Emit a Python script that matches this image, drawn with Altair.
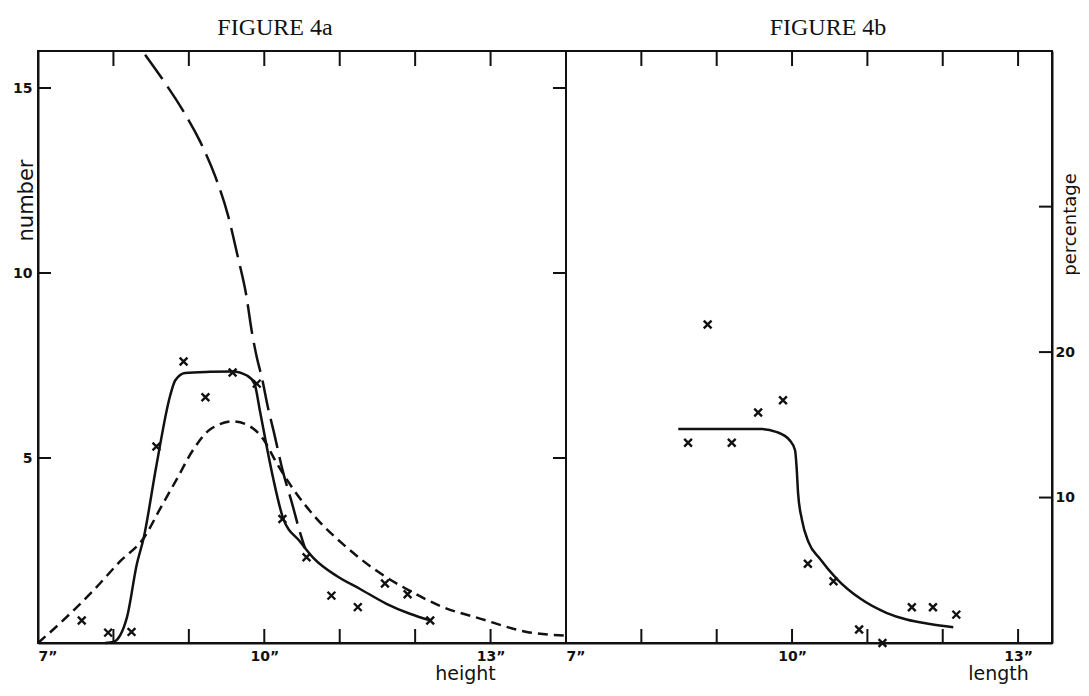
import altair as alt
import pandas as pd

# ---------------- Figure 4a data ----------------
a_cross_x = [7.58, 7.93, 8.24, 8.57, 8.93, 9.22, 9.58, 9.90, 10.24, 10.56, 10.89, 11.24, 11.60, 11.90, 12.20]
a_cross_y = [0.61, 0.28, 0.30, 5.31, 7.61, 6.64, 7.31, 7.01, 3.35, 2.32, 1.28, 0.97, 1.61, 1.32, 0.61]

a_solid_x = [7.89, 8.00, 8.18, 8.31, 8.40, 8.57, 8.75, 8.82, 8.95, 9.28, 9.58, 9.77, 9.87, 9.94,
             10.03, 10.12, 10.25, 10.47, 10.65, 10.96, 11.27, 11.62, 11.93, 12.20]
a_solid_y = [0.0, 0.03, 0.70, 2.13, 2.83, 4.80, 6.67, 7.10, 7.30, 7.33, 7.34, 7.23, 7.01, 6.30,
             5.33, 4.43, 3.37, 2.75, 2.30, 1.81, 1.46, 1.06, 0.79, 0.61]

a_short_x = [7.0, 7.29, 7.73, 8.09, 8.40, 8.62, 8.84, 9.06, 9.28, 9.59, 9.77, 9.99, 10.16, 10.38,
             10.69, 11.05, 11.49, 11.93, 12.37, 12.86, 13.48, 14.0]
a_short_y = [0.0, 0.53, 1.41, 2.21, 2.83, 3.63, 4.43, 5.23, 5.77, 5.99, 5.90, 5.50, 4.88, 4.17,
             3.37, 2.66, 1.95, 1.41, 0.97, 0.66, 0.30, 0.20]

a_long_x = [8.42, 8.68, 8.91, 9.15, 9.35, 9.52, 9.65, 9.76, 9.84, 9.90, 9.97, 10.05, 10.12, 10.25,
            10.37, 10.47, 10.54]
a_long_y = [15.9, 15.15, 14.43, 13.55, 12.61, 11.55, 10.43, 9.41, 8.35, 7.73, 7.15, 6.35, 5.76, 4.61,
            3.76, 3.01, 2.56]

a_xtick_values = [8, 9, 10, 11, 12, 13]
a_ytick_values = [5, 10, 15]
a_xlabel_values = [7, 10, 13]
a_ylabel_values = [5, 10, 15]

# ---------------- Figure 4b data ----------------
b_cross_x = [8.62, 8.88, 9.20, 9.55, 9.88, 10.21, 10.55, 10.89, 11.20, 11.59, 11.87, 12.18]
b_cross_y = [13.77, 21.9, 13.77, 15.85, 16.69, 5.45, 4.25, 0.93, 0.0, 2.46, 2.46, 1.95]

b_solid_x = [8.49, 9.00, 9.57, 9.80, 9.97, 10.04, 10.06, 10.08, 10.13, 10.22, 10.37, 10.59,
             10.90, 11.26, 11.52, 11.83, 12.14]
b_solid_y = [14.72, 14.72, 14.72, 14.5, 13.93, 13.25, 12.12, 10.31, 8.50, 6.92, 5.79, 4.43,
             3.07, 2.06, 1.61, 1.31, 1.09]

b_xtick_values = [8, 9, 10, 11, 12, 13]
b_ytick_values = [10, 20, 30]
b_xlabel_values = [7, 10, 13]
b_ylabel_values = [10, 20]

# ---------------- styling ----------------
INK = "#111111"
W_A, W_B, H = 528, 486, 592
LBL_FONT = "DejaVu Sans"
TTL_FONT = "DejaVu Sans"
X_SHAPE = "M-1,-1L1,1M1,-1L-1,1"

xa = alt.Scale(domain=[7, 14], nice=False, zero=False)
ya = alt.Scale(domain=[0, 16], nice=False, zero=False)
xb = alt.Scale(domain=[7, 13.45], nice=False, zero=False)
yb = alt.Scale(domain=[0, 40.7], nice=False, zero=False)

common_axis = dict(ticks=False, grid=False, domainColor=INK, domainWidth=2,
                   labelFont=LBL_FONT, labelFontSize=14, labelFontWeight="bold",
                   labelColor=INK, labelFlush=False, titleFont=TTL_FONT,
                   titleFontWeight="normal", titleColor=INK, titleBaseline="alphabetic",
                   titleAlign="center")


def x_axis(values, title, title_x):
    return alt.Axis(values=values, title=title, labelExpr="datum.value + '\u201d'",
                    labelAlign={"condition": {"test": "datum.value == 7", "value": "left"},
                                "value": "center"},
                    labelPadding=6, titleX=title_x, titleY=36, titleFontSize=19,
                    **common_axis)


ax_xa = x_axis(a_xlabel_values, "height", 427)
ax_ya = alt.Axis(values=a_ylabel_values, title="number", labelPadding=6,
                 titleX=-6, titleY=149, titleAngle=270, titleFontSize=21, **common_axis)
ax_xb = x_axis(b_xlabel_values, "length", 432)
ax_yb = alt.Axis(values=b_ylabel_values, orient="right", title="percentage",
                 labelPadding=3, titleX=23, titleY=173, titleAngle=270,
                 titleFontSize=18, **common_axis)


def tick_layers(xvals, yvals, xs, ys, xax, yax, width, y_side):
    dx = pd.DataFrame({"v": xvals})
    dy = pd.DataFrame({"v": yvals})
    rule = dict(color=INK, strokeWidth=2)
    bottom = alt.Chart(dx).mark_rule(**rule).encode(
        x=alt.X("v:Q", scale=xs, axis=xax), y=alt.value(H), y2=alt.value(H - 14))
    top = alt.Chart(dx).mark_rule(**rule).encode(
        x=alt.X("v:Q", scale=xs, axis=xax), y=alt.value(0), y2=alt.value(15))
    layers = [bottom, top]
    if "left" in y_side:
        layers.append(alt.Chart(dy).mark_rule(**rule).encode(
            y=alt.Y("v:Q", scale=ys, axis=yax), x=alt.value(0), x2=alt.value(13)))
    if "right" in y_side:
        layers.append(alt.Chart(dy).mark_rule(**rule).encode(
            y=alt.Y("v:Q", scale=ys, axis=yax), x=alt.value(width), x2=alt.value(width - 13)))
    return layers


def line_layer(xs_vals, ys_vals, xs, ys, xax, yax, dash=None):
    df = pd.DataFrame({"x": xs_vals, "y": ys_vals})
    kw = dict(color=INK, strokeWidth=2.5, interpolate="monotone")
    if dash:
        kw["strokeDash"] = dash
    return alt.Chart(df).mark_line(**kw).encode(
        x=alt.X("x:Q", scale=xs, axis=xax), y=alt.Y("y:Q", scale=ys, axis=yax))


def point_layer(xs_vals, ys_vals, xs, ys, xax, yax):
    df = pd.DataFrame({"x": xs_vals, "y": ys_vals})
    return alt.Chart(df).mark_point(shape=X_SHAPE, size=60, strokeWidth=2.4, color=INK,
                                    filled=False, opacity=1).encode(
        x=alt.X("x:Q", scale=xs, axis=xax), y=alt.Y("y:Q", scale=ys, axis=yax))


def panel_title(text, dx):
    return alt.TitleParams(text, font="Liberation Serif", fontSize=24, fontWeight="normal",
                           color=INK, offset=-9, dx=dx, baseline="alphabetic",
                           anchor="middle")


# ---------------- Panel a ----------------
panel_a = alt.layer(
    point_layer(a_cross_x, a_cross_y, xa, ya, ax_xa, ax_ya),
    line_layer(a_short_x, a_short_y, xa, ya, ax_xa, ax_ya, dash=[10, 6]),
    line_layer(a_long_x, a_long_y, xa, ya, ax_xa, ax_ya, dash=[30, 9]),
    line_layer(a_solid_x, a_solid_y, xa, ya, ax_xa, ax_ya),
    *tick_layers(a_xtick_values, a_ytick_values, xa, ya, ax_xa, ax_ya, W_A, ["left", "right"]),
).properties(width=W_A, height=H, title=panel_title("FIGURE 4a", -27))

# ---------------- Panel b ----------------
panel_b = alt.layer(
    point_layer(b_cross_x, b_cross_y, xb, yb, ax_xb, ax_yb),
    line_layer(b_solid_x, b_solid_y, xb, yb, ax_xb, ax_yb),
    *tick_layers(b_xtick_values, b_ytick_values, xb, yb, ax_xb, ax_yb, W_B, ["right"]),
).properties(width=W_B, height=H, title=panel_title("FIGURE 4b", 19))

chart = alt.hconcat(panel_a, panel_b, spacing=0, bounds="flush").properties(
    padding={"left": 3, "top": 6, "right": 0, "bottom": 0},
    background="white",
).configure_view(stroke=INK, strokeWidth=2)

chart.save("out.html", embed_options={"renderer": "svg", "actions": False})
